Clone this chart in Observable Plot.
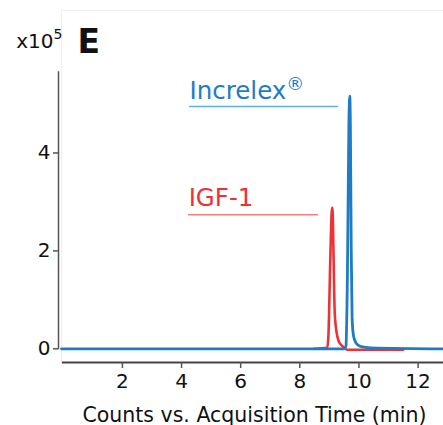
<!DOCTYPE html>
<html>
<head>
<meta charset="utf-8">
<script src="https://cdn.jsdelivr.net/npm/d3@7"></script>
<script src="https://cdn.jsdelivr.net/npm/@observablehq/plot@0.6"></script>
<style>
  html, body { margin: 0; padding: 0; background: #fff; }
  #chart svg { display: block; }
</style>
</head>
<body>
<div id="chart"></div>
<script>
// Retention time (min) and counts (x10^5)
const increlexTime   = [-0.06, 9.50, 9.56, 9.61, 9.66, 9.69, 9.71, 9.74, 9.77, 9.82, 9.90, 10.05, 10.40, 12.86];
const increlexCounts = [0.00, 0.00, 0.05, 1.50, 4.60, 5.16, 4.60, 2.00, 0.60, 0.25, 0.12, 0.05, 0.02, 0.00];

const igf1Time   = [8.50, 8.93, 8.97, 9.03, 9.08, 9.10, 9.12, 9.15, 9.18, 9.24, 9.32, 9.45, 9.60, 11.50];
const igf1Counts = [0.00, 0.02, 0.30, 1.80, 2.80, 2.88, 2.60, 1.60, 0.75, 0.35, 0.15, 0.05, -0.02, -0.02];

const xTicks = [2, 4, 6, 8, 10, 12];
const yTicks = [0, 2, 4];

const seriesNames  = ["Increlex", "IGF-1"];
const seriesMarks  = ["®", ""];
const seriesColors = ["#1f7cc4", "#ec3237"];
const underlineColors = ["#5eb0e6", "#f27c80"];
// label anchor points (data coords): start time, end time of underline, counts
const labelStart = [4.27, 4.24];
const labelEnd   = [9.31, 8.63];
const labelY     = [5.11, 2.91];
const underlineY = [4.95, 2.74];

const xTitle = "Counts vs. Acquisition Time (min)";
const yUnitBase = "x10";
const yUnitExp = "5";
const panel = "E";

const increlex = increlexTime.map((t, i) => ({t, v: increlexCounts[i]}));
const igf1 = igf1Time.map((t, i) => ({t, v: igf1Counts[i]}));
const labels = seriesNames.map((name, i) => ({
  name, sup: seriesMarks[i], x: labelStart[i], x2: labelEnd[i], y: labelY[i], uy: underlineY[i],
  color: seriesColors[i], ucolor: underlineColors[i]
}));

const font = "DejaVu Sans, sans-serif";

const chart = Plot.plot({
  width: 443,
  height: 425,
  marginLeft: 61,
  marginRight: 0,
  marginTop: 10,
  marginBottom: 63,
  style: {fontFamily: font, background: "#fff", color: "#111"},
  x: {domain: [-0.06, 12.86], axis: null},
  y: {domain: [-0.28, 6.91], axis: null},
  marks: [
    Plot.frame({stroke: "#f0f0f0", strokeWidth: 1}),
    // x axis line
    Plot.ruleY([-0.28], {x1: -0.03, x2: 12.86, stroke: "#444", strokeWidth: 2}),
    Plot.axisX({ticks: xTicks, tickSize: 6, tickPadding: 5, fontSize: 20, stroke: "#555", strokeWidth: 1.5, label: null, fill: "#111"}),
    // y axis line
    Plot.ruleX([-0.06], {y1: -0.02, y2: 5.66, dx: -3, stroke: "#555", strokeWidth: 1.5}),
    Plot.axisY({ticks: yTicks, tickSize: 5, tickPadding: 3, dx: -3, fontSize: 20, stroke: "#555", strokeWidth: 1.5, label: null, fill: "#111"}),
    // traces
    Plot.line(igf1, {x: "t", y: "v", stroke: seriesColors[1], strokeWidth: 2.6, curve: "monotone-x"}),
    Plot.line(increlex, {x: "t", y: "v", stroke: seriesColors[0], strokeWidth: 2.8, curve: "monotone-x"}),
    // labels with underlines
    Plot.ruleY(labels, {y: "uy", x1: "x", x2: "x2", stroke: "ucolor", strokeWidth: 1.5}),
    Plot.text(labels, {x: "x", y: "y", text: d => d.name + d.sup, fill: "color", textAnchor: "start", lineAnchor: "bottom", fontSize: 24.5, className: "series-label"}),
    // axis title and annotations
    Plot.text([xTitle], {frameAnchor: "bottom", dy: 59, dx: 2, lineAnchor: "bottom", fontSize: 20.5, fill: "#111"}),
    Plot.text([yUnitBase + yUnitExp], {frameAnchor: "top-left", textAnchor: "end", dx: 1, dy: 37, lineAnchor: "bottom", fontSize: 20, fill: "#111", className: "unit-label"}),
    Plot.text([panel], {frameAnchor: "top-left", textAnchor: "start", dx: 16, dy: 42, lineAnchor: "bottom", fontSize: 33, fontWeight: "bold", fill: "#111"})
  ]
});

// Render superscripts as tspans (still real text)
const svg = d3.select(chart);
svg.selectAll(".series-label text").each(function() {
  const el = d3.select(this);
  const txt = el.text();
  labels.forEach(l => {
    if (l.sup && txt === l.name + l.sup) {
      el.text(l.name);
      el.append("tspan").attr("font-size", 18).attr("dy", -9).text(l.sup);
    }
  });
});
svg.selectAll(".unit-label text").each(function() {
  const el = d3.select(this);
  el.text(yUnitBase);
  el.append("tspan").attr("font-size", 14).attr("dy", -9).text(yUnitExp);
});

document.getElementById("chart").appendChild(chart);
</script>
</body>
</html>
